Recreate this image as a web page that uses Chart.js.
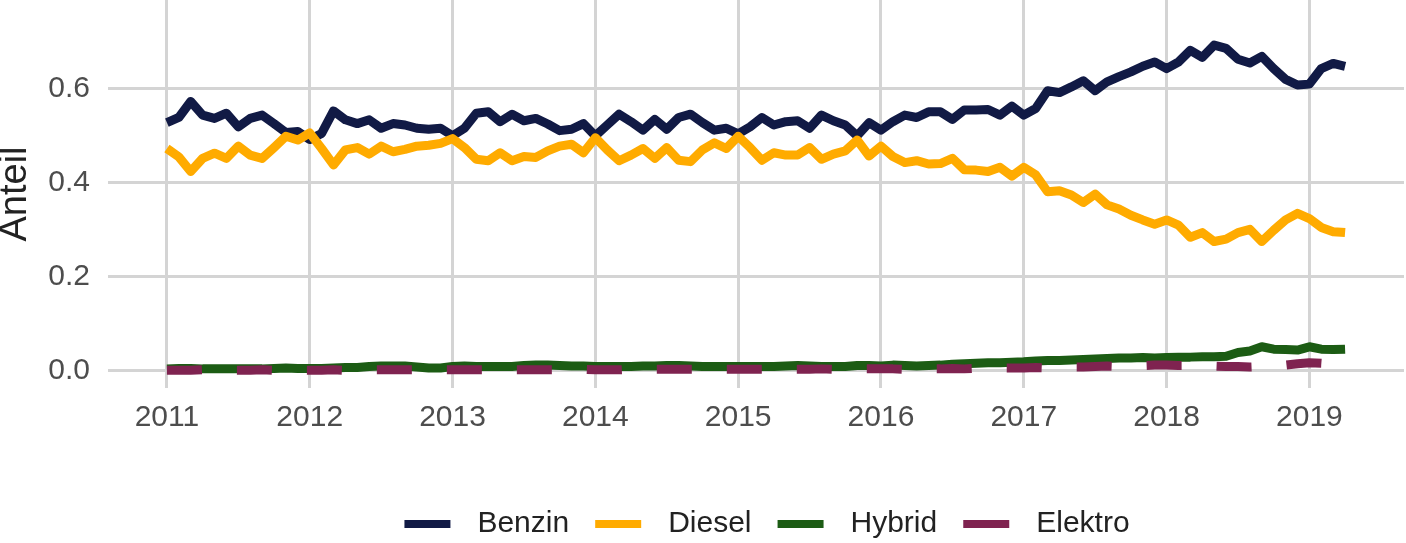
<!DOCTYPE html>
<html>
<head>
<meta charset="utf-8">
<script src="https://cdn.jsdelivr.net/npm/chart.js@4"></script>
<style>
  body { margin: 0; background: #fff; }
  canvas { display: block; }
</style>
</head>
<body>
<canvas id="chart" width="1406" height="543"></canvas>
<script>
// Monthly shares, Jan 2011 .. Apr 2019
const startYear = 2011;

const benzin = [
  0.527, 0.538, 0.572, 0.543, 0.536, 0.547, 0.518, 0.536, 0.543, 0.525, 0.506, 0.508,
  0.491, 0.504, 0.552, 0.533, 0.525, 0.533, 0.515, 0.525, 0.522, 0.515, 0.513, 0.515,
  0.499, 0.515, 0.547, 0.550, 0.529, 0.545, 0.531, 0.536, 0.524, 0.510, 0.513, 0.525,
  0.499, 0.522, 0.545, 0.529, 0.511, 0.534, 0.513, 0.538, 0.545, 0.527, 0.511, 0.515,
  0.503, 0.518, 0.538, 0.522, 0.529, 0.531, 0.515, 0.543, 0.531, 0.522, 0.499, 0.527,
  0.511, 0.529, 0.543, 0.538, 0.550, 0.550, 0.534, 0.554, 0.554, 0.555, 0.543, 0.562,
  0.543, 0.557, 0.595, 0.591, 0.603, 0.616, 0.595, 0.614, 0.625, 0.635, 0.647, 0.656,
  0.642, 0.656, 0.681, 0.666, 0.692, 0.685, 0.662, 0.654, 0.668, 0.642, 0.619, 0.607,
  0.609, 0.642, 0.653, 0.647
];

const diesel = [
  0.472, 0.454, 0.423, 0.451, 0.462, 0.451, 0.477, 0.458, 0.451, 0.474, 0.498, 0.490,
  0.505, 0.472, 0.437, 0.469, 0.474, 0.460, 0.477, 0.465, 0.470, 0.477, 0.479, 0.483,
  0.493, 0.474, 0.449, 0.446, 0.463, 0.446, 0.455, 0.453, 0.467, 0.477, 0.481, 0.463,
  0.495, 0.469, 0.446, 0.458, 0.472, 0.451, 0.474, 0.447, 0.444, 0.469, 0.484, 0.472,
  0.498, 0.474, 0.447, 0.463, 0.458, 0.458, 0.474, 0.449, 0.460, 0.467, 0.490, 0.456,
  0.477, 0.455, 0.442, 0.446, 0.439, 0.440, 0.451, 0.427, 0.426, 0.423, 0.432, 0.413,
  0.432, 0.416, 0.380, 0.382, 0.373, 0.357, 0.375, 0.352, 0.343, 0.330, 0.320, 0.311,
  0.320, 0.309, 0.283, 0.293, 0.274, 0.279, 0.293, 0.300, 0.274, 0.298, 0.320, 0.334,
  0.323, 0.304, 0.295, 0.293
];

const hybrid = [
  0.003, 0.004, 0.004, 0.003, 0.003, 0.003, 0.003, 0.003, 0.003, 0.004, 0.005, 0.004,
  0.004, 0.004, 0.005, 0.006, 0.006, 0.008, 0.009, 0.009, 0.009, 0.007, 0.005, 0.005,
  0.008, 0.009, 0.008, 0.008, 0.008, 0.008, 0.010, 0.011, 0.011, 0.010, 0.009, 0.009,
  0.008, 0.008, 0.008, 0.008, 0.009, 0.009, 0.010, 0.010, 0.009, 0.008, 0.008, 0.008,
  0.008, 0.008, 0.008, 0.008, 0.009, 0.010, 0.009, 0.008, 0.008, 0.008, 0.010, 0.010,
  0.009, 0.011, 0.010, 0.009, 0.010, 0.011, 0.013, 0.014, 0.015, 0.016, 0.016, 0.017,
  0.018, 0.020, 0.021, 0.021, 0.022, 0.023, 0.024, 0.025, 0.026, 0.026, 0.027, 0.026,
  0.027, 0.028, 0.028, 0.029, 0.029, 0.030, 0.038, 0.041, 0.050, 0.045, 0.044, 0.043,
  0.050, 0.045, 0.044, 0.045
];

const elektro = [
  0.000, 0.000, 0.000, 0.001, 0.000, 0.000, 0.000, 0.000, 0.001, 0.000, 0.000, 0.000,
  0.000, 0.000, 0.001, 0.000, 0.001, 0.001, 0.001, 0.001, 0.001, 0.001, 0.001, 0.001,
  0.001, 0.001, 0.001, 0.001, 0.001, 0.001, 0.001, 0.001, 0.001, 0.001, 0.001, 0.002,
  0.001, 0.001, 0.001, 0.002, 0.001, 0.002, 0.002, 0.002, 0.002, 0.002, 0.002, 0.002,
  0.002, 0.002, 0.002, 0.002, 0.002, 0.002, 0.002, 0.003, 0.002, 0.002, 0.003, 0.003,
  0.003, 0.003, 0.002, 0.003, 0.003, 0.003, 0.004, 0.003, 0.004, 0.004, 0.005, 0.005,
  0.005, 0.006, 0.005, 0.006, 0.007, 0.007, 0.008, 0.009, 0.008, 0.009, 0.010, 0.011,
  0.011, 0.010, 0.010, 0.011, 0.009, 0.008, 0.008, 0.007, 0.008, 0.009, 0.011, 0.014,
  0.016, 0.015, 0.013, 0.012
];

const xTicks = [2011, 2012, 2013, 2014, 2015, 2016, 2017, 2018, 2019];
const yTicks = [0, 0.2, 0.4, 0.6];

const FONT = "'Liberation Sans', Arial, sans-serif";

// turn a monthly series into {x, y} points
function toPoints(values) {
  return values.map((v, i) => ({ x: startYear + i / 12, y: v }));
}

// legend key: a short bar with blank space around it
function keyImage(color) {
  const c = document.createElement('canvas');
  c.width = 74;
  c.height = 10;
  const g = c.getContext('2d');
  g.fillStyle = color;
  g.fillRect(16, 1, 46, 8);
  return c;
}

function series(label, values, color, order, dash) {
  return {
    label: label,
    data: toPoints(values),
    borderColor: color,
    backgroundColor: color,
    borderWidth: 9,
    borderDash: dash || [],
    borderCapStyle: 'butt',
    borderJoinStyle: 'round',
    pointRadius: 0,
    tension: 0,
    order: order
  };
}

// move the legend to where it sits in the original
const legendShift = {
  id: 'legendShift',
  afterLayout(chart) {
    const lg = chart.legend;
    lg.top += 6; lg.bottom += 6;
    lg.left += 57; lg.right += 57;
  }
};

function noPadding(s) {
  s.paddingTop = 0; s.paddingBottom = 0;
  s.paddingLeft = 0; s.paddingRight = 0;
}

new Chart(document.getElementById('chart').getContext('2d'), {
  type: 'line',
  data: {
    datasets: [
      series('Benzin', benzin, '#111a45', 4),
      series('Diesel', diesel, '#ffab00', 3),
      series('Hybrid', hybrid, '#1c5c14', 2),
      series('Elektro', elektro, '#7f2350', 1, [35, 35])
    ]
  },
  options: {
    responsive: false,
    animation: false,
    layout: { padding: { top: 0, right: 2, bottom: 0, left: 0 } },
    plugins: {
      tooltip: { enabled: false },
      legend: {
        position: 'bottom',
        labels: {
          usePointStyle: true,
          pointStyleWidth: 74,
          padding: 10,
          color: '#222',
          font: { family: FONT, size: 30 },
          generateLabels: chart => chart.data.datasets.map((ds, i) => ({
            text: ds.label,
            pointStyle: keyImage(ds.borderColor),
            fillStyle: ds.borderColor,
            strokeStyle: ds.borderColor,
            lineWidth: 0,
            fontColor: '#222',
            hidden: false,
            datasetIndex: i
          }))
        }
      }
    },
    scales: {
      x: {
        type: 'linear',
        min: 2010.5875,
        max: 2019.6625,
        afterBuildTicks: s => { s.ticks = xTicks.map(v => ({ value: v })); },
        afterFit: s => { s.height = 105; noPadding(s); },
        grid: { color: '#d4d4d4', lineWidth: 3, drawTicks: false },
        border: { display: false },
        ticks: {
          padding: 12,
          color: '#4d4d4d',
          font: { family: FONT, size: 30 },
          maxRotation: 0,
          callback: v => String(v)
        }
      },
      y: {
        type: 'linear',
        min: -0.0377,
        max: 0.788,
        afterBuildTicks: s => { s.ticks = yTicks.map(v => ({ value: v })); },
        afterFit: s => { s.width = 108; noPadding(s); },
        grid: { color: '#d4d4d4', lineWidth: 3, drawTicks: false },
        border: { display: false },
        ticks: {
          padding: 18,
          color: '#4d4d4d',
          font: { family: FONT, size: 30 },
          callback: v => v.toFixed(1)
        },
        title: {
          display: true,
          text: 'Anteil',
          color: '#222',
          padding: 0,
          font: { family: FONT, size: 38, lineHeight: 0.8 }
        }
      }
    }
  },
  plugins: [legendShift]
});
</script>
</body>
</html>
